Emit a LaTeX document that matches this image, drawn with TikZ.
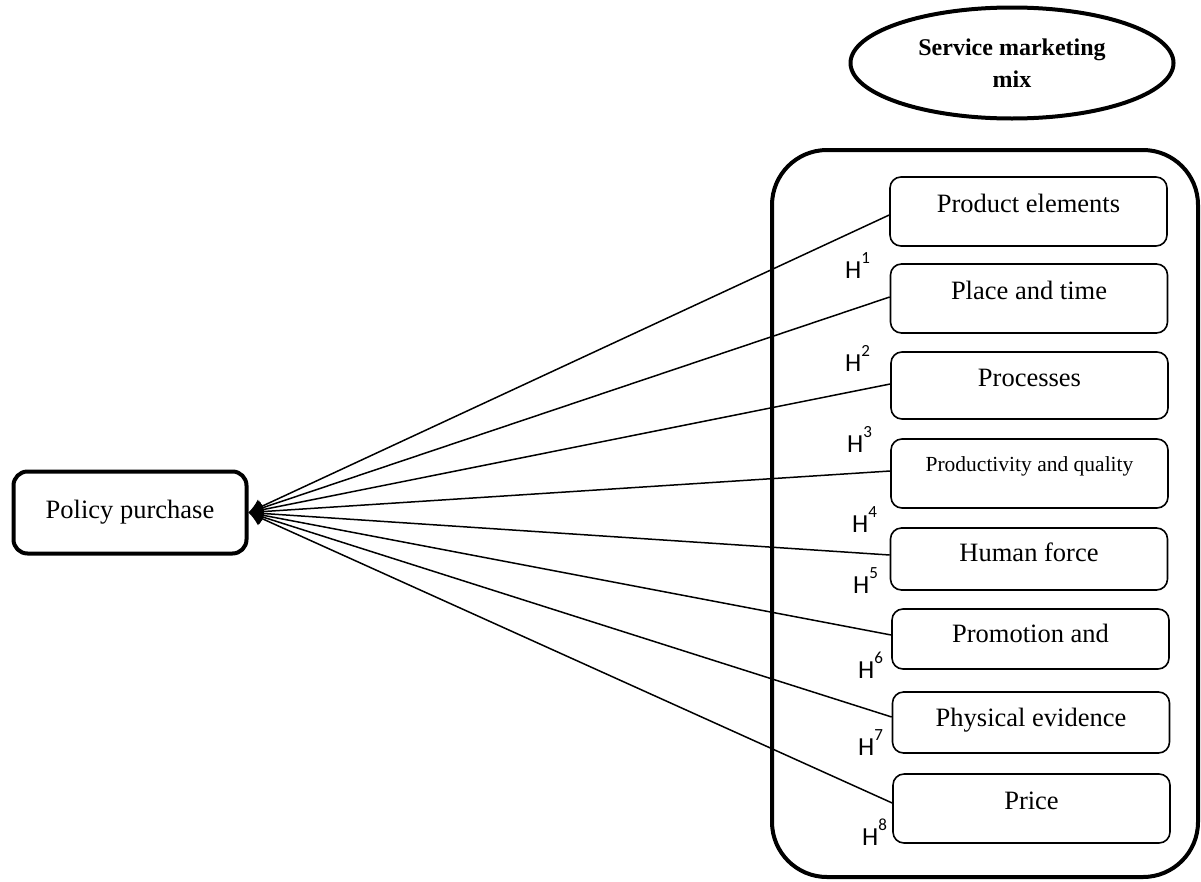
\documentclass[tikz,border=0pt]{standalone}
\usepackage{fontspec}
\setmainfont{Liberation Serif}
\newfontfamily\hfont{Carlito}
\usetikzlibrary{shapes.geometric,arrows.meta}
\newcommand{\hyp}[1]{H\raisebox{15pt}{\fontsize{17}{17}\selectfont #1}}
\begin{document}
\begin{tikzpicture}[x=1pt,y=-1pt,
  mixbox/.style={draw,line width=1.6pt,rounded corners=11pt,minimum width=277pt,inner sep=0pt,
    font=\fontsize{26.5}{30}\selectfont,text height=18pt,text depth=16pt},
  hlab/.style={font=\hfont\fontsize{26}{28}\selectfont,inner sep=0pt,anchor=base west},
  conn/.style={line width=1.5pt,-{Latex[length=14pt,width=16pt]}}]
\useasboundingbox[fill=white] (0,0) rectangle (1201,881);
% frame
\draw[line width=4pt,rounded corners=55pt] (772,150) rectangle (1198,877);
% ellipse title
\node[ellipse,draw,line width=4pt,minimum width=323pt,minimum height=111pt,inner sep=0pt,
  align=center,font=\bfseries\fontsize{24}{32}\selectfont] (smm) at (1012,63) {Service marketing\\mix};
% source node
\node[draw,line width=4pt,rounded corners=14pt,minimum width=233pt,minimum height=82pt,
  font=\fontsize{26.5}{30}\selectfont] (pp) at (130,512.5) {Policy purchase};
% boxes
\node[mixbox,minimum height=69pt] (b1) at (1028.5,211.5) {Product elements};
\node[mixbox,minimum height=69pt] (b2) at (1029,298.5) {Place and time};
\node[mixbox,minimum height=67pt] (b3) at (1029.5,385.5) {Processes};
\node[mixbox,minimum height=69pt,font=\fontsize{21.5}{24}\selectfont,text height=15pt,text depth=19pt] (b4) at (1029.5,473.5) {Productivity and quality};
\node[mixbox,minimum height=62pt,text depth=14pt] (b5) at (1029,559) {Human force};
\node[mixbox,minimum height=60pt,text depth=12pt] (b6) at (1030.5,639) {Promotion and};
\node[mixbox,minimum height=61pt,text depth=10pt] (b7) at (1031,722.5) {Physical evidence};
\node[mixbox,minimum height=69pt,text depth=16pt] (b8) at (1031.5,808.5) {Price};
% connectors
\draw[conn] ([yshift=-3.5pt]b1.west) -- (pp.east);
\draw[conn] ([yshift=1.5pt]b2.west) -- (pp.east);
\draw[conn] ([yshift=1.5pt]b3.west) -- (pp.east);
\draw[conn] ([yshift=2.5pt]b4.west) -- (pp.east);
\draw[conn] ([yshift=4pt]b5.west) -- (pp.east);
\draw[conn] ([yshift=4pt]b6.west) -- (pp.east);
\draw[conn] ([yshift=5.5pt]b7.west) -- (pp.east);
\draw[conn] ([yshift=5.5pt]b8.west) -- (pp.east);
% hypothesis labels
\node[hlab] (h1) at (845,278) {\hyp{1}};
\node[hlab] (h2) at (845,371) {\hyp{2}};
\node[hlab] (h3) at (847,452) {\hyp{3}};
\node[hlab] (h4) at (852,532) {\hyp{4}};
\node[hlab] (h5) at (853,593) {\hyp{5}};
\node[hlab] (h6) at (858,678) {\hyp{6}};
\node[hlab] (h7) at (858,755) {\hyp{7}};
\node[hlab] (h8) at (862,845) {\hyp{8}};
\end{tikzpicture}
\end{document}
